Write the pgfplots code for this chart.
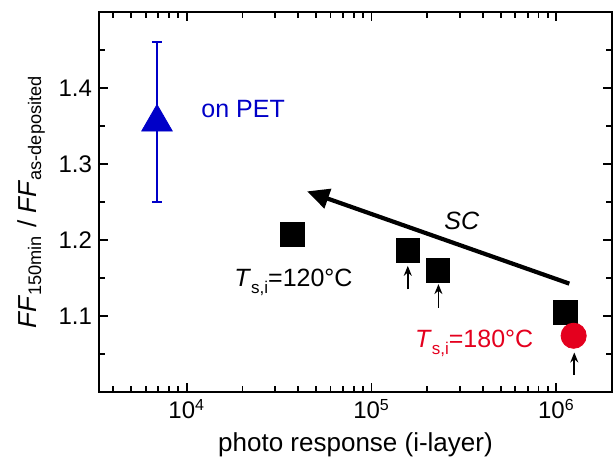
\documentclass[border=0pt]{standalone}
\usepackage{fontspec}
\setmainfont{Liberation Sans}
\usepackage{pgfplots}
\pgfplotsset{compat=1.18}
\usetikzlibrary{arrows.meta}
\definecolor{petblue}{RGB}{0,0,200}
\definecolor{hotred}{RGB}{228,0,30}
\newcommand{\sub}[1]{\raisebox{-0.55ex}{\fontsize{8.5}{9}\selectfont #1}}
\begin{document}
\begin{tikzpicture}
\path (-49.5pt,-34pt) rectangle (258.5pt,196pt);
\begin{axis}[
 at={(0,0)}, anchor=south west,
 width=256.5pt, height=190pt, scale only axis,
 xmode=log, xmin=3350, xmax=2e6,
 ymin=1.0, ymax=1.5,
 xtick={1e4,1e5,1e6},
 xticklabels={10\textsuperscript{4},10\textsuperscript{5},10\textsuperscript{6}},
 minor xtick={4000,5000,6000,7000,8000,9000,20000,30000,40000,50000,60000,70000,80000,90000,200000,300000,400000,500000,600000,700000,800000,900000},
 ytick={1.1,1.2,1.3,1.4},
 minor ytick={1.05,1.15,1.25,1.35,1.45},
 yticklabel style={/pgf/number format/fixed,/pgf/number format/precision=1},
 /pgf/number format/assume math mode=true,
 tick align=inside,
 major tick length=4.5pt, minor tick length=2.8pt,
 axis line style={line width=1.4pt},
 every tick/.style={line width=0.9pt, black},
 tick label style={font=\fontsize{12}{14}\selectfont},
 label style={font=\fontsize{13}{15}\selectfont},
 xlabel={photo response (i-layer)},
 ylabel={\textit{FF}\textsubscript{150min} / \textit{FF}\textsubscript{as-deposited}},
 clip=false,
]
\addplot[only marks, mark=triangle*, mark size=8.8pt, color=petblue,
  error bars/.cd, y dir=both, y explicit,
  error bar style={line width=1pt, petblue},
  error mark options={rotate=90, mark size=2.5pt, line width=1pt, petblue}]
  coordinates {(6900,1.355) +- (0,0.105)};
\addplot[only marks, mark=square*, mark size=5.9pt, black]
  coordinates {(37200,1.207) (157000,1.186) (229000,1.160) (1.12e6,1.105)};
\addplot[only marks, mark=*, mark size=6.3pt, hotred, mark options={draw=hotred, fill=hotred}]
  coordinates {(1.24e6,1.074)};
\draw[line width=2.1pt, -{Triangle[length=11pt,width=10pt]}] (axis cs:1.175e6,1.1426) -- (axis cs:44800,1.264);
\draw[line width=0.8pt, -{Stealth[length=5pt,width=4pt]}] (axis cs:157000,1.135) -- (axis cs:157000,1.166);
\draw[line width=0.8pt, -{Stealth[length=5pt,width=4pt]}] (axis cs:230000,1.111) -- (axis cs:230000,1.142);
\draw[line width=0.8pt, -{Stealth[length=5pt,width=4pt]}] (axis cs:1.25e6,1.023) -- (axis cs:1.25e6,1.052);
\node[petblue, anchor=west, font=\fontsize{12.5}{14}\selectfont] at (axis cs:11000,1.373) {on PET};
\node[font=\fontsize{12.5}{14}\selectfont] at (axis cs:37800,1.144) {\textit{T}\sub{s,i}=120°C};
\node[hotred, font=\fontsize{12.5}{14}\selectfont] at (axis cs:3.59e5,1.064) {\textit{T}\sub{s,i}=180°C};
\node[font=\fontsize{12.5}{14}\selectfont] at (axis cs:3.08e5,1.225) {\textit{SC}};
\end{axis}
\end{tikzpicture}
\end{document}
